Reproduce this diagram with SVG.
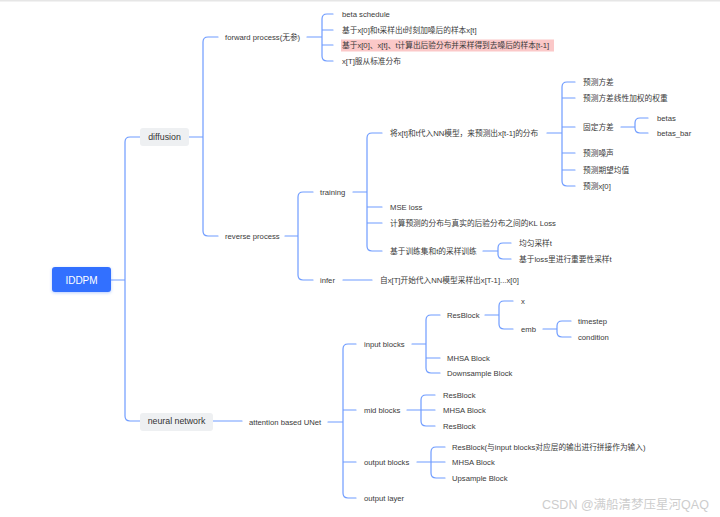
<svg xmlns="http://www.w3.org/2000/svg" width="720" height="517" viewBox="0 0 720 517">
<defs>
<style>
.t{font-family:"Liberation Sans","Noto Sans CJK SC",sans-serif;font-size:7.7px;fill:#3a3a3a;dominant-baseline:central}
.l1{font-family:"Liberation Sans","Noto Sans CJK SC",sans-serif;font-size:8.8px;fill:#333;dominant-baseline:central;text-anchor:middle}
.c{fill:none;stroke:#6f9cff;stroke-width:1.2;stroke-linecap:round}
.g{fill:#eef0f2}
</style>
<filter id="sh" x="-30%" y="-50%" width="160%" height="200%">
<feDropShadow dx="0" dy="1" stdDeviation="1.5" flood-color="#3370ff" flood-opacity="0.35"/>
</filter>
</defs>
<rect width="720" height="517" fill="#fff"/>
<rect x="0" y="0" width="720" height="1.5" fill="#e6e6e6"/>

<g id="connectors" class="c">
<path d="M111,280 H125 M140,137 H130 Q125,137 125,142 V416 Q125,421 130,421 H140"/>
<path d="M189,137 H203 M218,37 H208 Q203,37 203,42 V231 Q203,236 208,236 H218"/>
<path d="M307,37 H322 M333,14 H327 Q322,14 322,19 V56 Q322,61 327,61 H333 M322,30 H333 M322,45 H333"/>
<path d="M285,236 H298 M313,192 H303 Q298,192 298,197 V275 Q298,280 303,280 H313"/>
<path d="M353,192 H367 M382,133 H372 Q367,133 367,138 V246 Q367,251 372,251 H382 M367,207 H382 M367,223 H382"/>
<path d="M547,133 H562 M575,82 H567 Q562,82 562,87 V181 Q562,186 567,186 H575 M562,98 H575 M562,127 H575 M562,153 H575 M562,170 H575"/>
<path d="M621,127 H635 M648,118 H640 Q635,118 635,123 V128 Q635,133 640,133 H648"/>
<path d="M483,251 H498 M511,243 H503 Q498,243 498,248 V254 Q498,259 503,259 H511"/>
<path d="M343,280 H372"/>
<path d="M213,421 H242"/>
<path d="M328,422 H343 M356,344 H348 Q343,344 343,349 V493 Q343,498 348,498 H356 M343,410 H356 M343,462 H356"/>
<path d="M412,344 H426 M440,315 H431 Q426,315 426,320 V368 Q426,373 431,373 H440 M426,358 H440"/>
<path d="M485,315 H499 M513,301 H504 Q499,301 499,306 V324 Q499,329 504,329 H513"/>
<path d="M543,329 H557 M571,321 H562 Q557,321 557,326 V332 Q557,337 562,337 H571"/>
<path d="M407,410 H421 M435,395 H426 Q421,395 421,400 V421 Q421,426 426,426 H435 M421,410 H435"/>
<path d="M417,462 H431 M445,447 H436 Q431,447 431,452 V473 Q431,478 436,478 H445 M431,462 H445"/>
</g>

<g id="root">
<rect x="52" y="267" width="59" height="25" rx="3" fill="#3370ff" filter="url(#sh)"/>
<text x="81.5" y="280" class="l1" style="fill:#fff;font-size:10px">IDDPM</text>
</g>
<g id="diffusion">
<rect x="140" y="128" width="49" height="18" rx="3" class="g"/>
<text x="164.5" y="137" class="l1">diffusion</text>
</g>
<g id="neural-network">
<rect x="140" y="413" width="73" height="18" rx="3" class="g"/>
<text x="176.5" y="421" class="l1">neural network</text>
</g>

<g id="forward"><text x="225" y="37" class="t">forward process(无参)</text></g>
<g id="f1"><text x="342" y="14" class="t">beta schedule</text></g>
<g id="f2"><text x="342" y="30" class="t">基于x[0]和t采样出t时刻加噪后的样本x[t]</text></g>
<g id="f3"><rect x="341" y="39.5" width="213" height="12" fill="#fbc8c8"/><text x="342" y="45" class="t">基于x[0]、x[t]、t计算出后验分布并采样得到去噪后的样本[t-1]</text></g>
<g id="f4"><text x="342" y="61" class="t">x[T]服从标准分布</text></g>

<g id="reverse"><text x="225" y="236" class="t">reverse process</text></g>
<g id="training"><text x="320" y="192" class="t">training</text></g>
<g id="infer"><text x="320" y="280" class="t">infer</text></g>
<g id="infer-1"><text x="380" y="280" class="t">自x[T]开始代入NN模型采样出x[T-1]...x[0]</text></g>

<g id="tr1"><text x="390" y="133" class="t">将x[t]和t代入NN模型，来预测出x[t-1]的分布</text></g>
<g id="tr2"><text x="390" y="207" class="t">MSE loss</text></g>
<g id="tr3"><text x="390" y="223" class="t">计算预测的分布与真实的后验分布之间的KL Loss</text></g>
<g id="tr4"><text x="390" y="251" class="t">基于训练集和t的采样训练</text></g>

<g id="p1"><text x="583" y="82" class="t">预测方差</text></g>
<g id="p2"><text x="583" y="98" class="t">预测方差线性加权的权重</text></g>
<g id="p3"><text x="583" y="127" class="t">固定方差</text></g>
<g id="p4"><text x="583" y="153" class="t">预测噪声</text></g>
<g id="p5"><text x="583" y="170" class="t">预测期望均值</text></g>
<g id="p6"><text x="583" y="186" class="t">预测x[0]</text></g>
<g id="betas"><text x="657" y="118" class="t">betas</text></g>
<g id="betas-bar"><text x="657" y="133" class="t">betas_bar</text></g>
<g id="s1"><text x="519" y="243" class="t">均匀采样t</text></g>
<g id="s2"><text x="519" y="259" class="t">基于loss里进行重要性采样t</text></g>

<g id="unet"><text x="249" y="422" class="t">attention based UNet</text></g>
<g id="input"><text x="364" y="344" class="t">input blocks</text></g>
<g id="mid"><text x="364" y="410" class="t">mid blocks</text></g>
<g id="output"><text x="364" y="462" class="t">output blocks</text></g>
<g id="outlayer"><text x="364" y="498" class="t">output layer</text></g>

<g id="in-res"><text x="447" y="315" class="t">ResBlock</text></g>
<g id="in-mhsa"><text x="447" y="358" class="t">MHSA Block</text></g>
<g id="in-down"><text x="447" y="373" class="t">Downsample Block</text></g>
<g id="x"><text x="521" y="301" class="t">x</text></g>
<g id="emb"><text x="521" y="329" class="t">emb</text></g>
<g id="timestep"><text x="578" y="321" class="t">timestep</text></g>
<g id="condition"><text x="578" y="337" class="t">condition</text></g>

<g id="mid-res1"><text x="443" y="395" class="t">ResBlock</text></g>
<g id="mid-mhsa"><text x="443" y="410" class="t">MHSA Block</text></g>
<g id="mid-res2"><text x="443" y="426" class="t">ResBlock</text></g>

<g id="out-res"><text x="452" y="447" class="t">ResBlock(与input blocks对应层的输出进行拼接作为输入)</text></g>
<g id="out-mhsa"><text x="452" y="462" class="t">MHSA Block</text></g>
<g id="out-up"><text x="452" y="478" class="t">Upsample Block</text></g>

<text x="542" y="505" font-family="Liberation Sans,Noto Sans CJK SC,sans-serif" font-size="12.5" fill="#cdcdcd" dominant-baseline="central">CSDN @满船清梦压星河QAQ</text>
</svg>
